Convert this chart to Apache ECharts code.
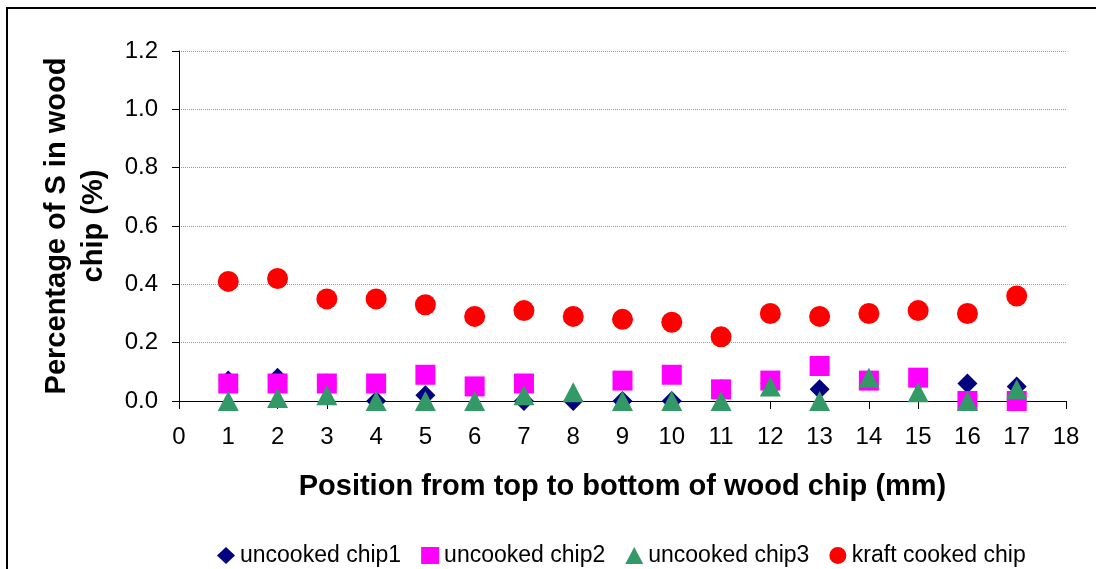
<!DOCTYPE html>
<html>
<head>
<meta charset="utf-8">
<script src="https://cdn.jsdelivr.net/npm/echarts@6/dist/echarts.min.js"></script>
<style>
  html, body { margin: 0; padding: 0; background: #fff; }
  #chart { width: 1096px; height: 569px; }
</style>
</head>
<body>
<div id="chart"></div>
<script>
// positions along the chip (mm)
const positions = [1, 2, 3, 4, 5, 6, 7, 8, 9, 10, 11, 12, 13, 14, 15, 16, 17];

// % S in wood chip (null = no marker)
const uncookedChip1 = [0.07, 0.08, 0.06, 0.00, 0.02, 0.04, 0.00, 0.00, 0.00, 0.00, 0.04, 0.06, 0.04, 0.07, 0.07, 0.06, 0.05];
const uncookedChip2 = [0.06, 0.06, 0.06, 0.06, 0.09, 0.05, 0.06, null, 0.07, 0.09, 0.04, 0.07, 0.12, 0.07, 0.08, 0.00, 0.00];
const uncookedChip3 = [0.00, 0.01, 0.02, 0.00, 0.00, 0.00, 0.02, 0.03, 0.00, 0.00, 0.00, 0.05, 0.00, 0.08, 0.03, 0.00, 0.04];
const kraftCooked   = [0.41, 0.42, 0.35, 0.35, 0.33, 0.29, 0.31, 0.29, 0.28, 0.27, 0.22, 0.30, 0.29, 0.30, 0.31, 0.30, 0.36];

const seriesNames = ['uncooked chip1', 'uncooked chip2', 'uncooked chip3', 'kraft cooked chip'];

const FONT = '"Liberation Sans", Arial, sans-serif';

const toPoints = vals => positions.map((x, i) => [x, vals[i]]).filter(p => p[1] !== null);

const chart = echarts.init(document.getElementById('chart'), null, { renderer: 'canvas' });

const option = {
    backgroundColor: '#fff',
    animation: false,
    textStyle: { fontFamily: FONT },
    grid: { left: 179, right: 30, top: 51, bottom: 168, containLabel: false },
    graphic: [
        {
            // outer chart-area frame (right and bottom edges run off the picture)
            type: 'rect',
            shape: { x: 7, y: 8, width: 1100, height: 600 },
            style: { fill: 'none', stroke: '#000', lineWidth: 2 },
            silent: true
        }
    ],
    legend: {
        top: 539,
        left: 212,
        itemWidth: 18,
        itemHeight: 17,
        itemGap: 20,
        textStyle: { fontFamily: FONT, fontSize: 23, color: '#000' },
        data: [
            { name: seriesNames[0], icon: 'diamond' },
            { name: seriesNames[1], icon: 'rect' },
            { name: seriesNames[2], icon: 'triangle' },
            { name: seriesNames[3], icon: 'circle' }
        ]
    },
    xAxis: {
        type: 'value',
        min: 0,
        max: 18,
        interval: 1,
        name: 'Position from top to bottom of wood chip (mm)',
        nameLocation: 'middle',
        nameGap: 71,
        nameTextStyle: { fontFamily: FONT, fontSize: 29, fontWeight: 'bold', color: '#000' },
        axisLine: { onZero: false, lineStyle: { color: '#000', width: 1 } },
        axisTick: { show: true, length: 8, lineStyle: { color: '#000' } },
        axisLabel: { fontFamily: FONT, fontSize: 24, color: '#000', margin: 24 },
        splitLine: { show: false }
    },
    yAxis: {
        type: 'value',
        min: 0,
        max: 1.2,
        interval: 0.2,
        name: 'Percentage of S in wood\nchip (%)',
        nameLocation: 'middle',
        nameGap: 67,
        nameTextStyle: { fontFamily: FONT, fontSize: 29, fontWeight: 'bold', color: '#000', lineHeight: 37 },
        axisLine: { show: true, lineStyle: { color: '#000', width: 1 } },
        axisTick: { show: true, length: 7, lineStyle: { color: '#000' } },
        axisLabel: {
            fontFamily: FONT, fontSize: 24, color: '#000', margin: 21,
            formatter: v => v.toFixed(1)
        },
        splitLine: { show: true, lineStyle: { color: '#999', type: 'dotted', width: 1 } }
    },
    series: [
        {
            name: seriesNames[0], type: 'scatter', symbol: 'diamond', symbolSize: [20, 20],
            itemStyle: { color: '#000080', opacity: 1 }, data: toPoints(uncookedChip1)
        },
        {
            name: seriesNames[1], type: 'scatter', symbol: 'rect', symbolSize: [20, 20],
            itemStyle: { color: '#FF00FF', opacity: 1 }, data: toPoints(uncookedChip2)
        },
        {
            name: seriesNames[2], type: 'scatter', symbol: 'triangle', symbolSize: [21, 20],
            itemStyle: { color: '#339966', opacity: 1 }, data: toPoints(uncookedChip3)
        },
        {
            name: seriesNames[3], type: 'scatter', symbol: 'circle', symbolSize: 21,
            itemStyle: { color: '#FF0000', opacity: 1 }, data: toPoints(kraftCooked)
        }
    ]
};

chart.setOption(option);
</script>
</body>
</html>
